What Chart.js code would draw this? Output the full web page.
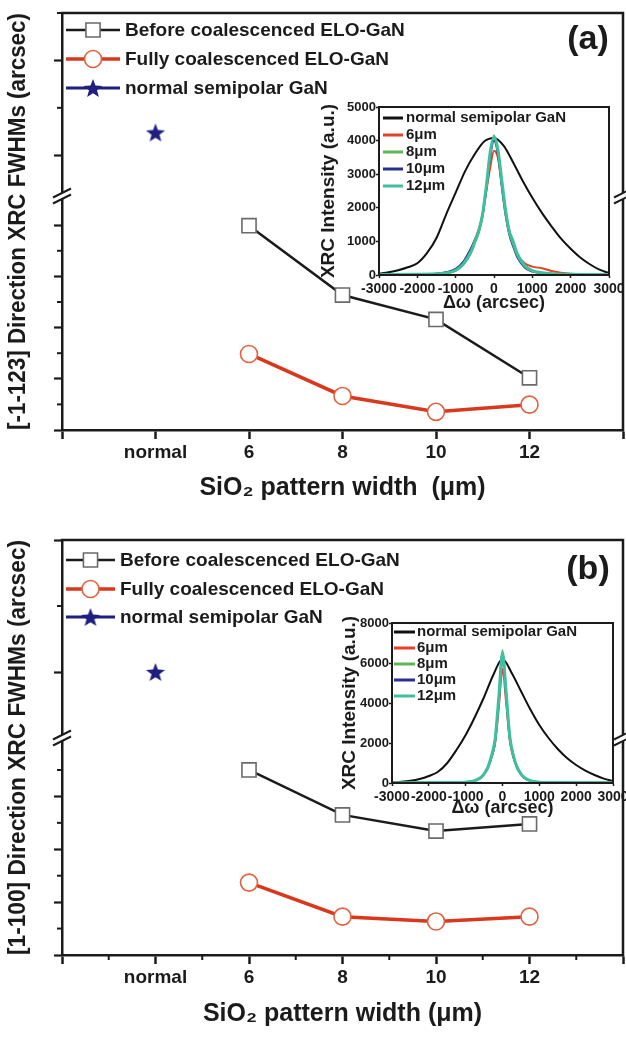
<!DOCTYPE html>
<html>
<head>
<meta charset="utf-8">
<script src="https://cdn.jsdelivr.net/npm/chart.js@4.4.1/dist/chart.umd.min.js"></script>
<style>
html,body{margin:0;padding:0;background:#ffffff;}
#wrap{position:relative;width:626px;height:1037px;overflow:hidden;background:#fff;}
canvas{position:absolute;}
</style>
</head>
<body>
<div id="wrap">
  <canvas id="mainA" width="626" height="520" style="left:0;top:0;width:626px;height:520px"></canvas>
  <canvas id="mainB" width="626" height="517" style="left:0;top:520px;width:626px;height:517px"></canvas>
  <canvas id="insetA" width="326" height="230" style="left:300px;top:90px;width:326px;height:230px"></canvas>
  <canvas id="insetB" width="326" height="230" style="left:300px;top:600px;width:326px;height:230px"></canvas>
</div>
<script>
// ================= DATA =================
const patternWidths = [6, 8, 10, 12];            // SiO2 pattern width (µm)
const normalSampleX = 4;                          // position of the "normal" category
const xTickValues = [2, 4, 6, 8, 10, 12, 14];
const xTickText   = ['', 'normal', '6', '8', '10', '12', ''];
const xMinorValues = [3, 5, 7, 9, 11, 13];

// Main panels: FWHM in axis-tick units (the broken axes carry no numbers)
const beforeA = [7.98, 5.27, 4.32, 2.04];
const fullyA  = [2.97, 1.33, 0.71, 0.99];
const normalA = [1.48];
const beforeB = [7.00, 5.30, 4.69, 4.96];
const fullyB  = [2.74, 1.45, 1.27, 1.45];
const normalB = [1.00];

const seriesLabels = ['Before coalescenced ELO-GaN', 'Fully coalescenced ELO-GaN', 'normal semipolar GaN'];

// Insets: XRC intensity (a.u.) vs Δω (arcsec)
const omegaWide = [-3000,-2750,-2500,-2250,-2000,-1750,-1500,-1250,-1000,-750,-500,-250,0,250,500,750,1000,1250,1500,1750,2000,2250,2500,2750,3000];
const omegaNarrow = [-3000,-2000,-1500,-1250,-1000,-800,-600,-500,-400,-300,-200,-100,0,100,200,300,400,500,600,800,1000,1250,1500,2000,3000];

const insetA_normal = [40,80,140,230,350,650,1100,1800,2450,3100,3600,3980,4080,3850,3350,2800,2300,1850,1450,1080,780,520,320,160,60];
const insetA_6um  = [10,30,40,70,150,350,750,1050,1350,1800,2500,3200,3700,3500,2750,1900,1300,900,620,350,250,200,120,40,10];
const insetA_8um  = [10,20,30,50,120,300,650,950,1250,1750,2600,3600,4150,3700,2750,1850,1250,900,600,250,120,60,40,20,10];
const insetA_10um = [10,20,40,80,180,400,800,1050,1300,1750,2550,3500,4000,3600,2650,1800,1200,850,550,220,100,50,30,15,10];
const insetA_12um = [10,20,35,60,140,330,700,1000,1300,1800,2650,3650,4100,3750,2850,1950,1300,1000,650,280,130,70,40,20,10];

const insetB_normal = [30,60,110,200,350,560,1000,1650,2400,3300,4300,5400,6200,5500,4600,3700,2900,2250,1700,1250,900,620,400,220,100];
const insetB_6um  = [10,15,20,25,40,90,250,450,750,1250,2000,3800,5700,4000,2100,1250,750,450,250,90,40,25,20,15,10];
const insetB_8um  = [10,15,20,25,40,90,250,450,750,1300,2100,4200,6650,4400,2200,1300,750,450,250,90,40,25,20,15,10];
const insetB_10um = [10,15,20,25,40,90,250,450,750,1300,2100,4100,6300,4300,2200,1300,750,450,250,90,40,25,20,15,10];
const insetB_12um = [10,15,20,25,40,90,260,460,780,1350,2200,4300,6500,4500,2300,1350,780,460,260,90,40,25,20,15,10];

const insetLabels = ['normal semipolar GaN', '6μm', '8μm', '10μm', '12μm'];

// ================= STYLE =================
const INK = '#1b1b1b';
const RED = '#d8381c';
const NAVY = '#1f1f80';
const FONT = '"Liberation Sans", Arial, Helvetica, sans-serif';
const insetColors = ['#111111', '#e5402a', '#5db55a', '#2a2f8f', '#3fbf9f'];
const insetWidths = [2, 2, 2, 2, 3];
const insetOrder = [5, 4, 2, 3, 1];
Chart.defaults.font.family = FONT;
Chart.defaults.color = INK;

function makeStar(size, color) {
  const c = document.createElement('canvas');
  c.width = size; c.height = size;
  const g = c.getContext('2d');
  g.fillStyle = color;
  g.beginPath();
  const cx = size / 2, cy = size / 2 + size * 0.05, R = size / 2, r = R * 0.42;
  for (let i = 0; i < 10; i++) {
    const a = -Math.PI / 2 + i * Math.PI / 5;
    const rr = (i % 2) ? r : R;
    g.lineTo(cx + rr * Math.cos(a), cy + rr * Math.sin(a));
  }
  g.closePath(); g.fill();
  return c;
}
const starImg = makeStar(20, NAVY);

function seg(ctx, x0, y0, x1, y1) { ctx.beginPath(); ctx.moveTo(x0, y0); ctx.lineTo(x1, y1); ctx.stroke(); }

function drawMarker(ctx, ds, x, y) {
  const st = ds.pointStyle;
  if (st instanceof HTMLCanvasElement) { ctx.drawImage(st, x - st.width / 2, y - st.height / 2); return; }
  ctx.fillStyle = ds.pointBackgroundColor;
  ctx.strokeStyle = ds.pointBorderColor;
  ctx.lineWidth = ds.pointBorderWidth;
  ctx.beginPath();
  if (st === 'rect') { const h = ds.pointRadius * Math.SQRT1_2; ctx.rect(x - h, y - h, 2 * h, 2 * h); }
  else { ctx.arc(x, y, ds.pointRadius, 0, Math.PI * 2); }
  ctx.fill(); ctx.stroke();
}

function drawBreak(ctx, x, y) {
  ctx.save();
  ctx.fillStyle = '#ffffff';
  ctx.beginPath();
  ctx.moveTo(x - 8, y + 1); ctx.lineTo(x + 8, y - 7); ctx.lineTo(x + 8, y - 1); ctx.lineTo(x - 8, y + 7);
  ctx.closePath(); ctx.fill();
  ctx.strokeStyle = INK; ctx.lineWidth = 2;
  seg(ctx, x - 9, y + 1.5, x + 9, y - 7.5);
  seg(ctx, x - 9, y + 7.5, x + 9, y - 1.5);
  ctx.restore();
}

const mainDecor = {
  id: 'mainDecor',
  afterDraw(chart, args, o) {
    const { ctx, chartArea: ca, scales } = chart;
    ctx.save();
    ctx.strokeStyle = INK; ctx.lineWidth = 2.5; ctx.lineCap = 'butt';
    ctx.beginPath();
    ctx.moveTo(ca.left - 1.25, ca.top); ctx.lineTo(ca.right, ca.top); ctx.lineTo(ca.right, ca.bottom + 1.25);
    ctx.stroke();
    // minor ticks
    ctx.lineWidth = 2;
    o.xMinor.forEach(v => { const px = scales.x.getPixelForValue(v); seg(ctx, px, ca.bottom, px, ca.bottom + 5); });
    o.botMinor.forEach(v => { const py = scales.yBot.getPixelForValue(v); seg(ctx, ca.left - 5, py, ca.left, py); });
    o.topMinor.forEach(v => { const py = scales.yTop.getPixelForValue(v); seg(ctx, ca.left - 5, py, ca.left, py); });
    // axis breaks
    const yb = scales.yBot.top;
    drawBreak(ctx, ca.left, yb);
    drawBreak(ctx, ca.right, yb);
    // legend
    const L = o.legend;
    chart.data.datasets.forEach((ds, i) => {
      const y = L.ys[i];
      ctx.strokeStyle = ds.borderColor; ctx.lineWidth = L.lineWidths[i];
      seg(ctx, L.x0, y, L.x1, y);
      drawMarker(ctx, ds, (L.x0 + L.x1) / 2, y);
      ctx.fillStyle = INK; ctx.font = 'bold 19px ' + FONT; ctx.textBaseline = 'middle'; ctx.textAlign = 'left';
      ctx.fillText(ds.label, L.textX, y + 1);
    });
    // panel tag
    ctx.fillStyle = INK; ctx.font = 'bold 34px ' + FONT; ctx.textAlign = 'center'; ctx.textBaseline = 'middle';
    ctx.fillText(o.tag, o.tagX, o.tagY);
    ctx.restore();
  }
};

// nudge layout padding so the plot area lands where the figure has it
function pinArea(chart, want) {
  const pad = chart.config.options.layout.padding;
  for (let k = 0; k < 3; k++) {
    const ca = chart.chartArea;
    const dR = ca.right - want.right, dL = want.left - ca.left;
    const dT = want.top - ca.top, dB = ca.bottom - want.bottom;
    if (Math.abs(dR) < 0.3 && Math.abs(dL) < 0.3 && Math.abs(dT) < 0.3 && Math.abs(dB) < 0.3) break;
    pad.right += dR; pad.left += dL; pad.top += dT; pad.bottom += dB;
    chart.update('none');
  }
}

function buildMain(id, p) {
  const ds = [
    { label: seriesLabels[0], data: patternWidths.map((x, i) => ({ x, y: p.before[i] })), yAxisID: 'yBot',
      borderColor: INK, borderWidth: 2.5, pointStyle: 'rect', pointRadius: 10, pointHoverRadius: 10,
      pointBorderColor: '#6a6a6a', pointBackgroundColor: '#ffffff', pointBorderWidth: 1.6, tension: 0 },
    { label: seriesLabels[1], data: patternWidths.map((x, i) => ({ x, y: p.fully[i] })), yAxisID: 'yBot',
      borderColor: RED, borderWidth: 3.5, pointStyle: 'circle', pointRadius: 8.5, pointHoverRadius: 8.5,
      pointBorderColor: '#e0623e', pointBackgroundColor: '#ffffff', pointBorderWidth: 1.6, tension: 0 },
    { label: seriesLabels[2], data: p.normal.map(y => ({ x: normalSampleX, y })), yAxisID: 'yTop', showLine: false,
      borderColor: NAVY, borderWidth: 3, pointStyle: starImg, pointRadius: 9, backgroundColor: NAVY }
  ];
  const yCommon = {
    type: 'linear', position: 'left', stack: 'left', offset: false,
    afterFit: s => { s.width = p.yAxisWidth; s.paddingTop = 0; s.paddingBottom = 0; },
    ticks: { display: false },
    grid: { drawOnChartArea: false, drawTicks: true, tickLength: 8, tickWidth: 2.2, tickColor: INK },
    border: { display: true, color: INK, width: 2.5 }
  };
  const chart = new Chart(document.getElementById(id), {
    type: 'line',
    data: { datasets: ds },
    plugins: [mainDecor],
    options: {
      responsive: false, animation: false, devicePixelRatio: 1,
      layout: { autoPadding: false, padding: { left: 0, top: p.area.top, right: 626 - p.area.right, bottom: 0 } },
      plugins: {
        legend: { display: false }, tooltip: { enabled: false },
        title: { display: true, position: 'left', fullSize: false, text: p.yTitle, color: INK,
          font: { family: FONT, size: 23, weight: 'bold', lineHeight: 1 }, padding: { top: 7, bottom: 6 } },
        mainDecor: p.decor
      },
      scales: {
        x: {
          type: 'linear', min: 2, max: 14,
          afterBuildTicks: s => { s.ticks = xTickValues.map(v => ({ value: v })); },
          afterFit: s => { s.height = p.xAxisHeight; s.paddingLeft = 0; s.paddingRight = 0; },
          ticks: { autoSkip: false, maxRotation: 0, minRotation: 0, padding: 2, color: INK,
            font: { family: FONT, size: 19, weight: 'bold' },
            callback: v => { const k = xTickValues.indexOf(v); return k >= 0 ? xTickText[k] : ''; } },
          grid: { drawOnChartArea: false, drawTicks: true, tickLength: 9, tickWidth: 2.5, tickColor: INK },
          border: { display: true, color: INK, width: 2.5 },
          title: { display: true, text: p.xTitle, color: INK,
            font: { family: FONT, size: 25, weight: 'bold', lineHeight: 1.2 }, padding: { top: 0, bottom: p.xTitlePad } }
        },
        yBot: Object.assign({}, yCommon, { stackWeight: p.botWeight, min: 0, max: p.botMax,
          afterBuildTicks: s => { s.ticks = p.botMajor.map(v => ({ value: v })); } }),
        yTop: Object.assign({}, yCommon, { stackWeight: p.topWeight, min: p.topMin, max: p.topMax,
          afterBuildTicks: s => { s.ticks = p.topMajor.map(v => ({ value: v })); } })
      }
    }
  });
  pinArea(chart, p.area);
  return chart;
}

buildMain('mainA', {
  before: beforeA, fully: fullyA, normal: normalA,
  yTitle: '[-1-123] Direction XRC FWHMs (arcsec)',
  xTitle: 'SiO₂ pattern width  (μm)',
  area: { left: 62, right: 623, top: 13, bottom: 430 },
  xAxisHeight: 90, xTitlePad: 17, yAxisWidth: 26,
  botWeight: 234, botMax: 9.14, botMajor: [0, 2, 4, 6, 8],
  topWeight: 183, topMin: 0.14, topMax: 4.0, topMajor: [1, 3],
  decor: { xMinor: [], botMinor: [1, 3, 5, 7], topMinor: [2, 4], tag: '(a)', tagX: 588, tagY: 40,
    legend: { x0: 66, x1: 120, textX: 125, ys: [30, 59, 88], lineWidths: [2.5, 3.5, 3] } }
});

buildMain('mainB', {
  before: beforeB, fully: fullyB, normal: normalB,
  yTitle: '[1-100] Direction XRC FWHMs (arcsec)',
  xTitle: 'SiO₂ pattern width (μm)',
  area: { left: 62, right: 623, top: 20, bottom: 435 },
  xAxisHeight: 82, xTitlePad: 8, yAxisWidth: 26,
  botWeight: 217, botMax: 8.21, botMajor: [0, 2, 4, 6],
  topWeight: 198, topMin: 0, topMax: 3.0, topMajor: [1, 3],
  decor: { xMinor: xMinorValues, botMinor: [1, 3, 5, 7], topMinor: [2], tag: '(b)', tagX: 588, tagY: 50,
    legend: { x0: 66, x1: 115, textX: 120, ys: [40, 69, 97], lineWidths: [2.5, 3.5, 3] } }
});

// ================= INSETS =================
const insetDecor = {
  id: 'insetDecor',
  afterDraw(chart, args, o) {
    const { ctx, chartArea: ca } = chart;
    ctx.save();
    ctx.strokeStyle = INK; ctx.lineWidth = 2;
    ctx.strokeRect(ca.left, ca.top, ca.right - ca.left, ca.bottom - ca.top);
    ctx.font = 'bold 15px ' + FONT; ctx.textBaseline = 'middle'; ctx.textAlign = 'left';
    chart.data.datasets.forEach((ds, i) => {
      const y = o.ys[i];
      ctx.strokeStyle = ds.borderColor; ctx.lineWidth = 3;
      seg(ctx, o.x0, y, o.x1, y);
      ctx.fillStyle = INK;
      ctx.fillText(ds.label, o.textX, y);
    });
    ctx.restore();
  }
};

function buildInset(id, p) {
  const series = [
    { x: omegaWide, y: p.normal }, { x: omegaNarrow, y: p.c6 }, { x: omegaNarrow, y: p.c8 },
    { x: omegaNarrow, y: p.c10 }, { x: omegaNarrow, y: p.c12 }
  ];
  const datasets = series.map((s, i) => ({
    label: insetLabels[i],
    data: s.x.map((x, k) => ({ x, y: s.y[k] })),
    borderColor: insetColors[i], borderWidth: insetWidths[i], pointRadius: 0,
    cubicInterpolationMode: 'monotone', order: insetOrder[i], fill: false
  }));
  const chart = new Chart(document.getElementById(id), {
    type: 'line',
    data: { datasets },
    plugins: [insetDecor],
    options: {
      responsive: false, animation: false, devicePixelRatio: 1,
      layout: { autoPadding: false, padding: { left: 0, top: p.area.top, right: 326 - p.area.right, bottom: 0 } },
      plugins: { legend: { display: false }, tooltip: { enabled: false }, insetDecor: p.legend },
      scales: {
        x: {
          type: 'linear', min: -3000, max: 3000,
          afterFit: s => { s.height = p.xAxisHeight; s.paddingLeft = 0; s.paddingRight = 0; },
          ticks: { stepSize: 1000, autoSkip: false, maxRotation: 0, minRotation: 0, padding: 3, color: INK,
            font: { family: FONT, size: 14, weight: 'bold' }, callback: v => String(v) },
          grid: { drawOnChartArea: false, drawTicks: true, tickLength: 3, tickWidth: 1.5, tickColor: INK },
          border: { display: true, color: INK, width: 2 },
          title: { display: true, text: 'Δω (arcsec)', color: INK,
            font: { family: FONT, size: 18, weight: 'bold', lineHeight: 1.2 }, padding: { top: 0, bottom: p.xTitlePad } }
        },
        y: {
          type: 'linear', min: 0, max: p.yMax,
          afterFit: s => { s.width = p.yAxisWidth; s.paddingTop = 0; s.paddingBottom = 0; },
          ticks: { stepSize: p.yStep, padding: 0, color: INK, font: { family: FONT, size: 13, weight: 'bold' },
            callback: v => String(v) },
          grid: { drawOnChartArea: false, drawTicks: true, tickLength: 3, tickWidth: 1.5, tickColor: INK },
          border: { display: true, color: INK, width: 2 },
          title: { display: true, text: 'XRC Intensity (a.u.)', color: INK,
            font: { family: FONT, size: 19, weight: 'bold', lineHeight: 1.2 }, padding: { top: p.yTitlePad, bottom: 0 } }
        }
      }
    }
  });
  pinArea(chart, p.area);
  return chart;
}

buildInset('insetA', {
  normal: insetA_normal, c6: insetA_6um, c8: insetA_8um, c10: insetA_10um, c12: insetA_12um,
  area: { left: 79, right: 309, top: 17, bottom: 185 },
  xAxisHeight: 45, yAxisWidth: 79, xTitlePad: 6, yTitlePad: 17,
  yMax: 5000, yStep: 1000,
  legend: { x0: 83, x1: 103, textX: 106, ys: [28, 45, 62, 79, 96] }
});

buildInset('insetB', {
  normal: insetB_normal, c6: insetB_6um, c8: insetB_8um, c10: insetB_10um, c12: insetB_12um,
  area: { left: 92, right: 313, top: 23, bottom: 183 },
  xAxisHeight: 47, yAxisWidth: 92, xTitlePad: 11, yTitlePad: 38,
  yMax: 8000, yStep: 2000,
  legend: { x0: 94, x1: 115, textX: 117, ys: [32, 48, 64, 80, 96] }
});
</script>
</body>
</html>
